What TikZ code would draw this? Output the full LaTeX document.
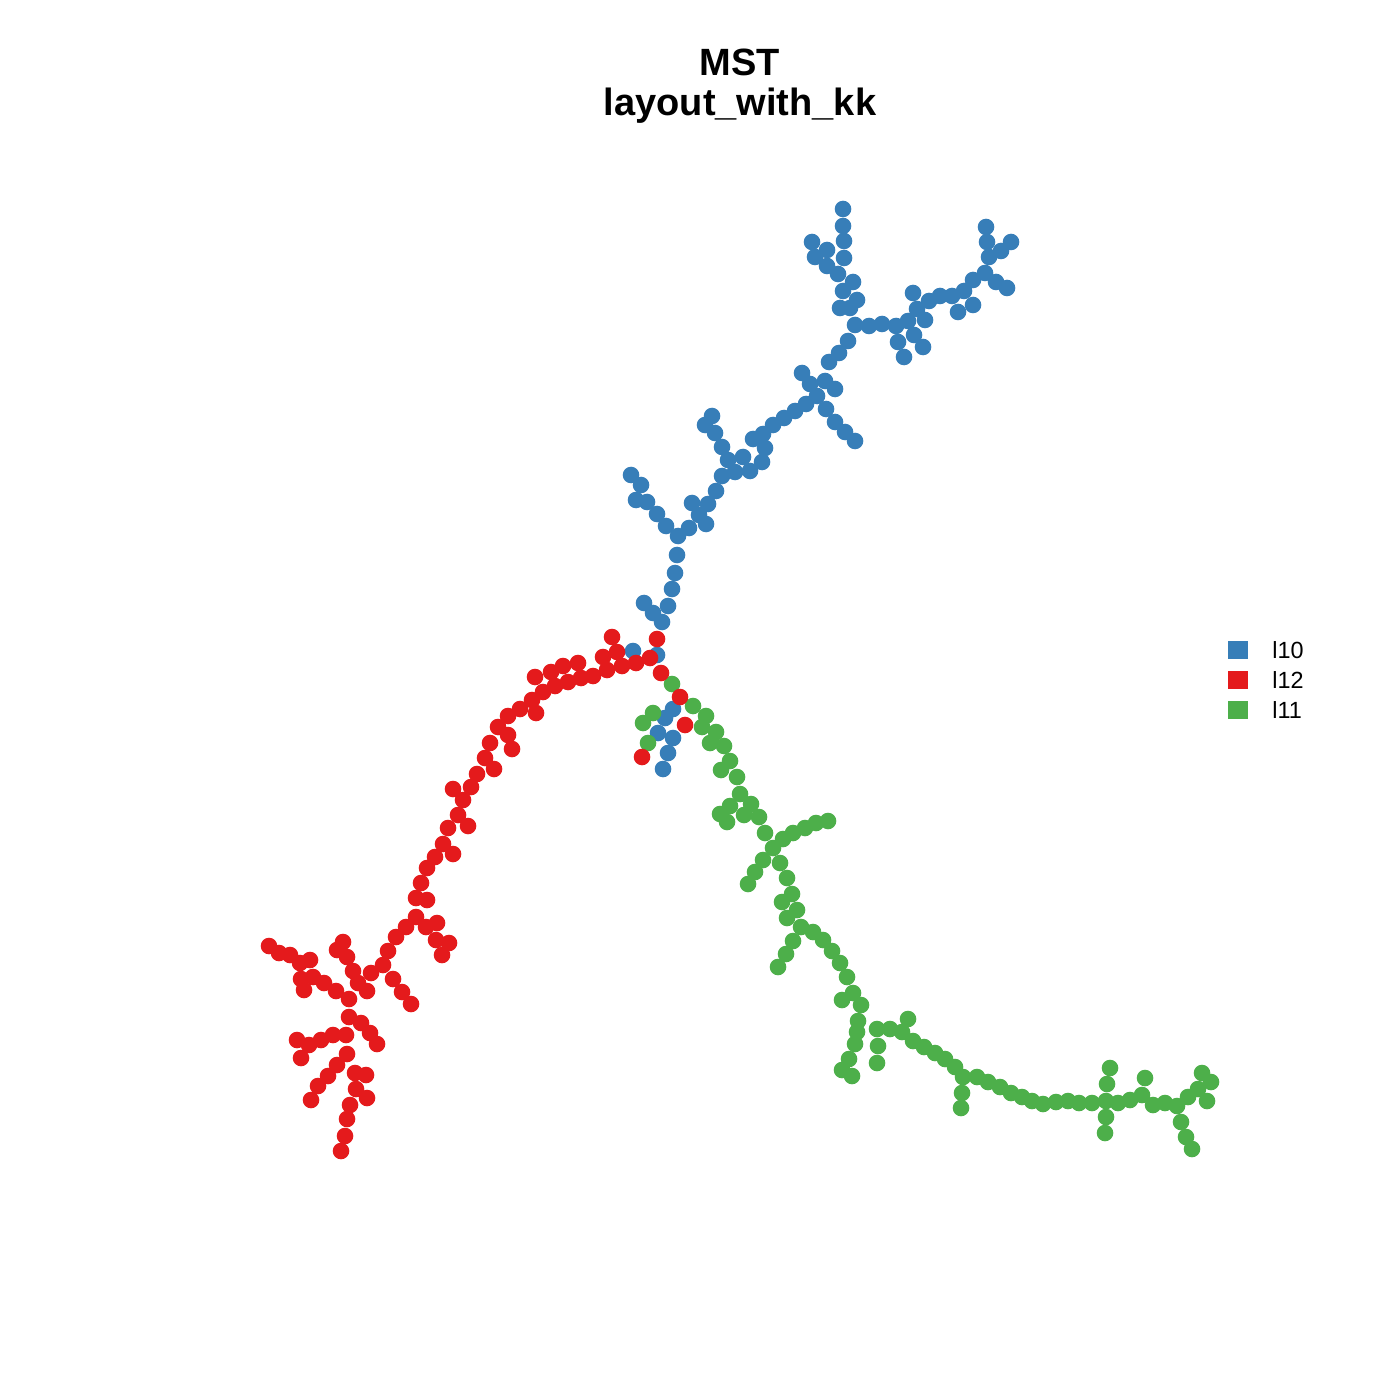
\documentclass[tikz,border=0pt]{standalone}
\usepackage{fontspec}
\setmainfont{Liberation Sans}
\usepackage{xcolor}
\usepackage{tikz}
\usetikzlibrary{positioning}

\definecolor{setblue}{HTML}{377EB8}
\definecolor{setred}{HTML}{E41A1C}
\definecolor{setgreen}{HTML}{4DAF4A}

\begin{document}
\begin{tikzpicture}[
    x=0.5pt, y=-0.5pt,
    bluedot/.style={fill=setblue},
    reddot/.style={fill=setred},
    greendot/.style={fill=setgreen},
    heading/.style={font=\fontsize{19}{22}\selectfont\bfseries, anchor=base, inner sep=0pt},
    legkey/.style={rectangle, minimum width=10pt, minimum height=9pt, inner sep=0pt},
    legtext/.style={font=\fontsize{11.7}{13}\selectfont, anchor=base west, inner sep=0pt},
]
    \useasboundingbox (0,0) rectangle (1400,1400);

    \node[heading] (title) at (740,76) {MST};
    \node[heading] (subtitle) at (740,116) {layout\_with\_kk};

    % cluster l10
    \foreach \px/\py in {843/209,843/226,844/241,844/258,812/242,827/250,815/257,827/266,838/274,853/282,
        843/291,857/300,840/308,850/308,855/325,869/326,882/324,896/326,908/321,913/293,917/309,929/301,
        925/320,940/296,952/296,964/291,973/280,985/273,996/282,1007/288,973/305,958/312,914/335,923/347,
        898/342,904/357,989/257,1001/251,1011/242,987/242,986/227,848/341,839/353,829/362,
        802/373,810/384,825/381,835/389,817/396,806/404,795/411,784/418,773/425,826/409,835/422,845/432,
        855/441,763/434,753/439,765/448,762/462,750/471,743/457,735/472,728/460,722/447,715/433,705/425,
        712/416,722/476,716/491,708/504,692/503,699/515,706/524,689/528,678/536,666/526,657/514,647/502,
        636/500,641/485,631/475,677/555,675/573,672/589,668/606,644/603,653/613,662/622,633/651,657/655,
        673/709,665/718,658/733,673/738,668/753,663/769}
        \fill[bluedot] (\px,\py) circle (4.15pt);

    % cluster l11
    \foreach \px/\py in {672/684,693/706,653/713,643/723,648/743,706/716,702/727,716/732,710/743,724/746,
        730/761,721/770,737/777,740/794,730/806,751/804,720/814,727/822,744/815,759/817,765/833,783/839,
        793/833,805/828,816/823,828/821,773/848,763/860,755/872,748/884,780/863,787/878,792/894,782/902,
        797/910,787/918,801/927,813/932,823/940,832/951,793/941,786/954,778/967,840/963,847/977,853/993,
        842/1000,861/1005,858/1021,877/1029,890/1029,902/1032,908/1019,857/1032,855/1044,878/1046,
        877/1063,849/1059,842/1070,852/1076,913/1041,924/1047,935/1053,945/1059,955/1067,963/1077,
        977/1077,988/1082,1000/1087,1011/1093,962/1093,961/1108,1022/1097,1032/1101,1043/1104,1056/1102,
        1068/1101,1079/1103,1092/1103,1106/1101,1110/1068,1107/1084,1106/1117,1105/1133,1118/1103,
        1130/1100,1142/1095,1145/1078,1153/1105,1165/1103,1177/1106,1188/1097,1198/1089,1202/1073,
        1211/1082,1207/1101,1181/1122,1186/1137,1192/1149}
        \fill[greendot] (\px,\py) circle (4.15pt);

    % cluster l12
    \foreach \px/\py in {657/639,612/637,617/652,603/657,650/658,636/663,622/666,607/670,661/673,680/697,
        685/725,642/757,593/676,581/678,578/663,568/682,563/666,551/672,535/677,555/686,543/692,532/700,
        536/713,520/709,508/716,498/727,508/735,512/749,490/743,485/758,494/769,477/774,471/787,453/789,
        463/800,458/815,448/828,468/826,443/844,453/854,435/857,427/868,421/883,416/898,427/900,416/917,
        406/927,426/927,437/923,436/940,449/943,442/955,
        269/946,279/953,290/955,300/963,310/960,301/979,313/977,304/990,324/983,336/991,349/999,343/942,
        337/950,347/957,353/971,358/983,367/991,371/973,383/965,388/951,396/937,393/979,402/992,411/1004,
        349/1017,361/1023,370/1033,377/1044,297/1040,309/1045,321/1040,333/1035,346/1035,301/1058,
        347/1054,337/1065,328/1076,318/1086,311/1100,355/1073,366/1075,356/1089,367/1098,350/1105,
        347/1119,345/1136,341/1151}
        \fill[reddot] (\px,\py) circle (4.15pt);

    % legend
    \node[legkey, fill=setblue] (keyA) at (1238,650) {};
    \node[legkey, fill=setred] (keyB) at (1238,680) {};
    \node[legkey, fill=setgreen] (keyC) at (1238,710) {};
    \node[legtext] (labA) at (1272,658) {l10};
    \node[legtext] (labB) at (1272,688) {l12};
    \node[legtext] (labC) at (1272,718) {l11};
\end{tikzpicture}
\end{document}
